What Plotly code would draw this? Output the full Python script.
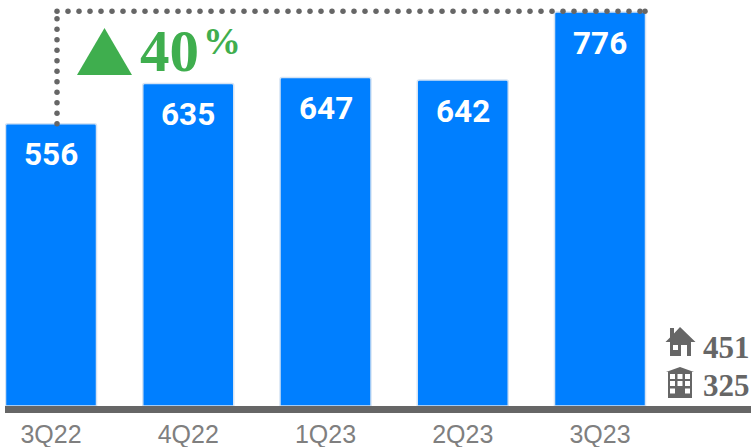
import numpy as np
import plotly.graph_objects as go

W, H = 751, 447
BASE = 406
ML = 5
STEP = 137.25
categories = ["3Q22", "4Q22", "1Q23", "2Q23", "3Q23"]
values = [556, 635, 647, 642, 776]
growth_int = "40"
growth_pct = "%"
split_labels = ["451", "325"]
positions = list(range(len(categories)))

GREY = "#666666"
GREEN = "#3FAE4E"
BLUE = "#007FFF"
YMAX = BASE / 0.5077
XR = (-(51 - ML) / STEP, -(51 - ML) / STEP + (W - ML) / STEP)


def px(x):
    return (x - ML) / (W - ML)


def py(y):
    return (BASE - y) / BASE


def poly(points, color):
    d = "M" + " L".join(f"{px(x):.5f},{py(y):.5f}" for x, y in points) + " Z"
    return dict(type="path", xref="paper", yref="paper", path=d, fillcolor=color, line_width=0, layer="above")


def rect(x0, y0, x1, y1, color):
    return poly([(x0, y0), (x1, y0), (x1, y1), (x0, y1)], color)


def label(xp, yp, text, size, color, family, bold=True, anchor="left"):
    return dict(xref="paper", yref="paper", x=px(xp), y=py(yp), text=f"<b>{text}</b>" if bold else text,
                showarrow=False, xanchor=anchor, yanchor="middle", borderpad=0,
                font=dict(size=size, color=color, family=family))


fig = go.Figure()
fig.add_trace(go.Bar(
    x=positions, y=values, width=91 / STEP,
    marker=dict(color=BLUE, line=dict(color="#D5E3F3", width=1.5), cornerradius=2),
    hoverinfo="skip", showlegend=False,
))

# dotted bracket from the first bar to the last bar
cx0 = (57 - 51) / STEP
cx1 = (645 - 51) / STEP
top = (BASE - 11.3) * YMAX / BASE
ys = np.arange(values[0], top, 10.5 / 0.5077)
xs = np.arange(cx0, cx1, 11 / STEP)
conn_x = np.concatenate([np.full(len(ys), cx0), xs, [cx1]])
conn_y = np.concatenate([ys, np.full(len(xs), top), [top]])
fig.add_trace(go.Scatter(
    x=conn_x, y=conn_y, mode="markers", cliponaxis=False,
    marker=dict(size=5.5, color=GREY), hoverinfo="skip", showlegend=False,
))

annotations = [
    dict(x=p, y=v, yshift=-31, text=f"<b>{v}</b>", showarrow=False, yanchor="middle", xanchor="center",
         font=dict(size=31.5, color="white", family="Roboto"))
    for p, v in zip(positions, values)
]
annotations += [
    label(139, 51, growth_int, 59, GREEN, "Liberation Serif"),
    label(202, 41, growth_pct, 38, GREEN, "Liberation Serif"),
    label(702, 347, split_labels[0], 31, GREY, "Liberation Serif"),
    label(702, 385, split_labels[1], 31, GREY, "Liberation Serif"),
]

shapes = [poly([(77, 75), (132, 75), (104.5, 28)], GREEN)]
# house icon
shapes += [
    poly([(665.5, 342), (670, 337.5), (670, 328), (674, 328), (674, 333.5), (680, 327), (695.5, 342)], GREY),
    rect(670, 342, 691, 356, GREY),
    rect(673, 345, 678, 350, "white"),
    rect(681, 345, 687, 356, "white"),
]
# building icon
shapes += [
    poly([(666, 372), (680, 367), (694, 372)], GREY),
    rect(668, 372, 692, 398, GREY),
]
for wx in (670, 677.5, 685):
    for wy in (374, 381, 388.5):
        if not (wx == 677.5 and wy == 388.5):
            shapes.append(rect(wx, wy, wx + 5, wy + 5, "white"))

fig.update_layout(
    width=W, height=H, autosize=False,
    margin=dict(l=ML, r=0, t=0, b=H - BASE, pad=0),
    paper_bgcolor="white", plot_bgcolor="white",
    xaxis=dict(range=XR, tickmode="array", tickvals=positions, ticktext=categories,
               showgrid=False, zeroline=False, showline=True, linewidth=7, linecolor=GREY, ticks="",
               tickfont=dict(size=25, color="#7F7F7F", family="Liberation Sans")),
    yaxis=dict(range=[0, YMAX], visible=False),
    annotations=annotations, shapes=shapes,
)
fig.write_html("out.html", config={"displayModeBar": False},
               post_script="document.body.style.margin='0';document.body.style.overflow='hidden';")
